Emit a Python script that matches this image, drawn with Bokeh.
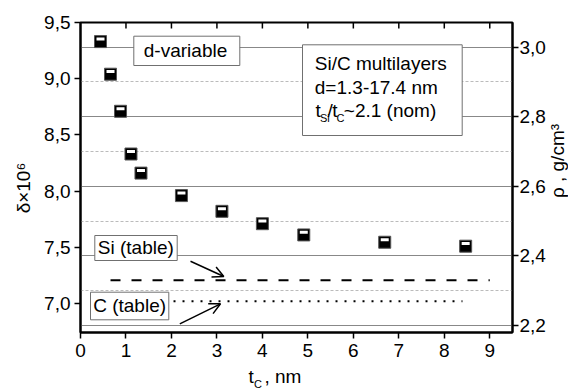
import math
from bokeh.plotting import figure
from bokeh.layouts import row, column
from bokeh.models import (Range1d, LinearAxis, FixedTicker, CustomJSTickFormatter, Grid,
                          Arrow, OpenHead)
from bokeh.core.properties import value
from bokeh.embed import file_html
from bokeh.resources import INLINE

# ---------------- data ----------------
t_c = [0.44, 0.66, 0.88, 1.11, 1.33, 2.22, 3.11, 4.00, 4.91, 6.69, 8.47]
delta = [9.33, 9.04, 8.71, 8.33, 8.16, 7.96, 7.82, 7.71, 7.61, 7.545, 7.51]
rho_si = 2.33          # Si (table) density, g/cm3 (right axis)
rho_c = 2.27           # C (table) density, g/cm3 (right axis)
ref_x_si = [0.66, 9.0]
ref_x_c = [0.66, 8.4]
x_ticks = [0, 1, 2, 3, 4, 5, 6, 7, 8, 9]
delta_ticks = [7.0, 7.5, 8.0, 8.5, 9.0, 9.5]
rho_ticks = [2.2, 2.4, 2.6, 2.8, 3.0]
rho_minor = [2.3, 2.5, 2.7, 2.9]

# ---------------- layout (canvas pixels) ----------------
W, H = 568, 389
LS, RS, BS = 36, 20, 22            # left / right / bottom title strips
FL, FR, FT, FB = 80, 512, 22, 332  # plot frame edges on the canvas
MW, MH = W - LS - RS, H - BS       # main figure size
FW, FH = FR - FL, FB - FT
X0, X1 = 0.0, 9.5
Y0, Y1 = 6.742, 9.5
R0, R1 = 2.180, 3.071
FONT = "Liberation Sans"
FS = "19px"
BASE_FIX = 0.35   # baseline correction, fraction of font size

p = figure(width=MW, height=MH, x_range=Range1d(X0, X1), y_range=Range1d(Y0, Y1),
           output_backend="svg", toolbar_location=None,
           min_border_left=FL - LS, min_border_right=(W - RS) - FR,
           min_border_top=FT, min_border_bottom=MH - FB)
p.background_fill_color = "white"
p.border_fill_color = "white"
p.outline_line_color = "black"
p.outline_line_width = 2
p.grid.visible = False

comma = CustomJSTickFormatter(code="return tick.toFixed(1).replace('.', ',');")

p.extra_y_ranges = {"rho": Range1d(R0, R1)}

def style_axis(ax, tin, tout, standoff):
    ax.axis_line_width = 2
    ax.axis_line_color = "black"
    ax.major_tick_line_width = 1.5
    ax.major_tick_line_color = "black"
    ax.major_tick_in = tin
    ax.major_tick_out = tout
    ax.minor_tick_line_color = None
    ax.major_label_standoff = standoff
    ax.major_label_text_font = FONT
    ax.major_label_text_font_size = FS
    ax.major_label_text_color = "black"

bottom = p.xaxis[0]
bottom.ticker = FixedTicker(ticks=x_ticks, minor_ticks=[])
style_axis(bottom, 0, 6, 5)

left = p.yaxis[0]
left.ticker = FixedTicker(ticks=delta_ticks, minor_ticks=[])
left.formatter = comma
style_axis(left, 0, 6, 4)

right = LinearAxis(y_range_name="rho", ticker=FixedTicker(ticks=rho_ticks, minor_ticks=[]),
                   formatter=comma)
style_axis(right, 0, 6, 1)
p.add_layout(right, "right")

grid = Grid(dimension=1, y_range_name="rho",
            ticker=FixedTicker(ticks=rho_ticks, minor_ticks=rho_minor),
            grid_line_color="#888888", grid_line_width=1,
            minor_grid_line_color="#bbbbbb", minor_grid_line_width=1,
            minor_grid_line_dash="3 2")
p.add_layout(grid)

# mirrored inward ticks on the top edge (half of each vertical dash is clipped away)
p.scatter(x_ticks[1:], [Y1] * (len(x_ticks) - 1), marker="dash", size=12, angle=math.pi / 2,
          line_color="black", line_width=1.5)

# reference lines (right axis)
p.line(ref_x_si, [rho_si, rho_si], y_range_name="rho", line_color="black",
       line_width=2, line_dash="10 11")
p.line(ref_x_c, [rho_c, rho_c], y_range_name="rho", line_color="black",
       line_width=2, line_dash="2 7")

# data markers: black square with white bar in upper part
p.scatter(t_c, delta, marker="square", size=12, fill_color="black", line_color="#555555",
          line_width=1)
off = 2.6 * (Y1 - Y0) / FH
p.rect(t_c, [d + off for d in delta], width=8, height=3, width_units="screen",
       height_units="screen", fill_color="white", line_color=None)

# ---------------- annotation boxes and texts ----------------
def px2x(px):
    return X0 + (px - FL) * (X1 - X0) / FW

def py2y(py):
    return Y1 - (py - FT) * (Y1 - Y0) / FH

def box(l, r, t, b):
    p.quad(left=[px2x(l)], right=[px2x(r)], top=[py2y(t)], bottom=[py2y(b)],
           fill_color="white", line_color="#707070", line_width=1)

box(133.3, 239.3, 35.7, 65.0)     # d-variable
box(302.0, 461.7, 44.3, 135.0)    # Si/C multilayers
box(94.3, 176.7, 235.0, 260.0)    # Si (table)
box(90.0, 168.3, 291.7, 319.3)    # C (table)

def txt(px, py, s, size=19, dx=0, dy=0):
    py = py - BASE_FIX * size
    p.text(x=[px2x(px)], y=[py2y(py)], text=[s], x_offset=dx, y_offset=dy,
           text_font=value(FONT), text_font_size=f"{size}px", text_color="black",
           text_align="left", text_baseline="alphabetic")

txt(143.3, 56.7, "d-variable")
txt(314.3, 69.3, "Si/C multilayers")
txt(314.3, 94.0, "d=1.3-17.4 nm")
txt(315.0, 116.7, "t")
txt(315.0, 121.7, "Si", size=11, dx=4.5)
txt(315.0, 116.7, "/", dx=12.0)
txt(315.0, 116.7, "t", dx=16.7)
txt(315.0, 121.7, "C", size=11, dx=21.0)
txt(315.0, 116.7, "~2.1 (nom)", dx=28.3)
txt(97.3, 253.3, "Si (table)")
txt(92.7, 311.7, "C (table)")

# arrows
for (x0, y0, x1, y1) in [(190.0, 260.7, 223.3, 276.0), (179.3, 323.3, 220.0, 303.3)]:
    p.add_layout(Arrow(x_start=px2x(x0), y_start=py2y(y0), x_end=px2x(x1), y_end=py2y(y1),
                       line_width=1.5, line_color="black",
                       end=OpenHead(size=11, line_width=1.5, line_color="black")))

# ---------------- title strips (coordinates = canvas pixels) ----------------
def strip(x0, x1, y0, y1):
    s = figure(width=x1 - x0, height=y1 - y0, x_range=Range1d(x0, x1),
               y_range=Range1d(y1, y0), output_backend="svg", toolbar_location=None,
               min_border=0, min_border_left=0, min_border_right=0, min_border_top=0,
               min_border_bottom=0, x_axis_location=None, y_axis_location=None)
    s.outline_line_color = None
    s.grid.visible = False
    s.background_fill_color = "white"
    s.border_fill_color = "white"
    return s

def stext(s, x, y, t, size=19, angle=0.0, align="center", baseline="middle"):
    if baseline == "alphabetic":
        y = y - BASE_FIX * size
    s.text(x=[x], y=[y], text=[t], angle=angle, text_font=value(FONT),
           text_font_size=f"{size}px", text_color="black", text_align=align,
           text_baseline=baseline)

sl = strip(0, LS, 0, MH)
stext(sl, 23, 196, "δ×10⁶", angle=math.pi / 2)

sr = strip(W - RS, W, 0, MH)
stext(sr, 557, 164, "ρ , g/cm³", angle=math.pi / 2)

sb = strip(0, W, MH, H)
stext(sb, 248, 383, "t", align="left", baseline="alphabetic")
stext(sb, 253.5, 387.5, "C", size=11, align="left", baseline="alphabetic")
stext(sb, 264, 383, ", nm", align="left", baseline="alphabetic")

layout = column(row(sl, p, sr, spacing=0), sb, spacing=0)
open("out.html", "w").write(file_html(layout, INLINE))
